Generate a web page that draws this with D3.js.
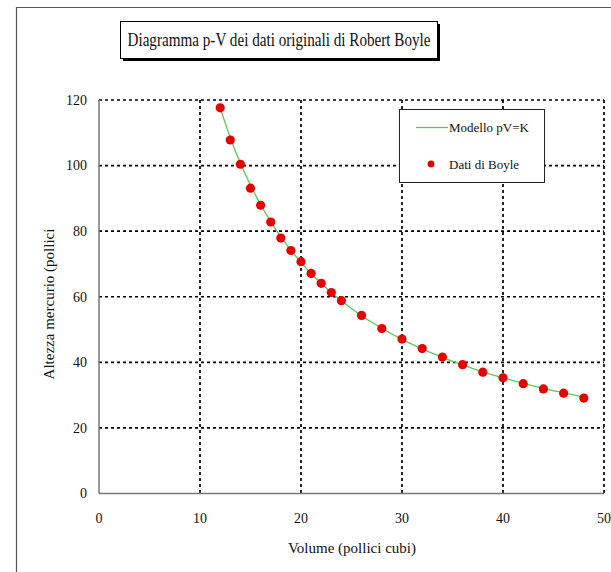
<!DOCTYPE html>
<html>
<head>
<meta charset="utf-8">
<script src="https://cdn.jsdelivr.net/npm/d3@7"></script>
<style>
	body{margin:0;background:#fff;}
	svg text{font-family:'Liberation Serif','DejaVu Serif',serif;fill:#111;}
</style>
</head>
<body>
<svg class="chart" width="611" height="572"></svg>
<script>
// Boyle's original data (volume in cubic inches, mercury height in inches)
var volumes = [48,46,44,42,40,38,36,34,32,30,28,26,24,23,22,21,20,19,18,17,16,15,14,13,12];
var heights = [29.1,30.6,31.9,33.5,35.3,37.0,39.3,41.6,44.2,47.1,50.3,54.3,58.8,61.3,64.1,67.1,70.7,74.1,77.9,82.8,87.9,93.1,100.4,107.8,117.6];
var modelHeights = [29.4,30.7,32.0,33.6,35.3,37.1,39.2,41.5,44.1,47.0,50.4,54.2,58.8,61.3,64.1,67.1,70.5,74.2,78.3,82.9,88.1,94.0,100.7,108.5,117.5];
var xTicks = [0,10,20,30,40,50];
var yTicks = [0,20,40,60,80,100,120];

var serif = "'Liberation Serif','DejaVu Serif',serif";
var margin = {top:100, right:8, bottom:79, left:99};
var width = 604 - margin.left,
	height = 493.5 - margin.top;

var svg = d3.select('.chart');

// outer frame
svg.append('path')
	.attr('d','M16.5,600 L16.5,7.5 L620,7.5')
	.attr('fill','none')
	.attr('stroke','#555')
	.attr('stroke-width',1.2);

// title box with shadow
svg.append('rect').attr('x',123).attr('y',24).attr('width',317).attr('height',37).attr('fill','#000');
svg.append('rect').attr('x',120.5).attr('y',21.5).attr('width',317).attr('height',37)
	.attr('fill','#fff').attr('stroke','#000').attr('stroke-width',1);
svg.append('text').attr('x',279).attr('y',46).attr('text-anchor','middle')
	.attr('font-family',serif).style('font-size','18px')
	.attr('textLength',303).attr('lengthAdjust','spacingAndGlyphs')
	.text('Diagramma p-V dei dati originali di Robert Boyle');

var x = d3.scaleLinear().domain([0,50]).range([0,width]);
var y = d3.scaleLinear().domain([0,120]).range([height,0]);

var chart = svg.append('g').attr('transform','translate(' + margin.left + ',' + margin.top + ')');

// dotted grid
chart.append('g').selectAll('line').data(xTicks.slice(1))
	.enter().append('line')
	.attr('x1',function(d){ return x(d)}).attr('x2',function(d){ return x(d)})
	.attr('y1',0).attr('y2',height)
	.attr('stroke','#000').attr('stroke-width',1.7).attr('stroke-dasharray','3,3');
chart.append('g').selectAll('line').data(yTicks.slice(1))
	.enter().append('line')
	.attr('y1',function(d){ return y(d)}).attr('y2',function(d){ return y(d)})
	.attr('x1',0).attr('x2',width)
	.attr('stroke','#000').attr('stroke-width',1.7).attr('stroke-dasharray','3,3');

// solid axes (left, bottom)
chart.append('line').attr('x1',0).attr('x2',0).attr('y1',0).attr('y2',height)
	.attr('stroke','#777').attr('stroke-width',1.5);
chart.append('line').attr('x1',0).attr('x2',width).attr('y1',height).attr('y2',height)
	.attr('stroke','#777').attr('stroke-width',1.5);

// tick labels
chart.append('g').selectAll('text').data(yTicks)
	.enter().append('text')
	.attr('x',-12).attr('y',function(d){ return y(d)}).attr('dy','0.35em')
	.attr('text-anchor','end').attr('font-family',serif).style('font-size','14px')
	.text(function(d){ return d});
chart.append('g').selectAll('text').data(xTicks)
	.enter().append('text')
	.attr('x',function(d){ return x(d)}).attr('y',height + 25).attr('dy','0.35em')
	.attr('text-anchor','middle').attr('font-family',serif).style('font-size','14px')
	.text(function(d){ return d});

// axis titles
svg.append('text').attr('x',352).attr('y',553).attr('text-anchor','middle')
	.attr('font-family',serif).style('font-size','15px').text('Volume (pollici cubi)');
svg.append('text').attr('transform','translate(54,304) rotate(-90)').attr('text-anchor','middle')
	.attr('font-family',serif).style('font-size','15px').text('Altezza mercurio (pollici');

// model line
var line = d3.line()
	.x(function(d,i){ return x(volumes[i])})
	.y(function(d){ return y(d)})
	.curve(d3.curveMonotoneX);
chart.append('path')
	.datum(modelHeights)
	.attr('fill','none')
	.attr('stroke','#5cc95c')
	.attr('stroke-width',1.3)
	.attr('d',line);

// data points
chart.append('g').selectAll('circle').data(heights)
	.enter().append('circle')
	.attr('cx',function(d,i){ return x(volumes[i])})
	.attr('cy',function(d){ return y(d)})
	.attr('r',4.6)
	.attr('fill','#e60000');

// legend
var legend = svg.append('g');
legend.append('rect').attr('x',399.5).attr('y',109.5).attr('width',145).attr('height',73)
	.attr('fill','#fff').attr('stroke','#222').attr('stroke-width',1);
legend.append('line').attr('x1',416).attr('x2',448).attr('y1',127.5).attr('y2',127.5)
	.attr('stroke','#5cc95c').attr('stroke-width',1.3);
legend.append('circle').attr('cx',431).attr('cy',164).attr('r',3.4).attr('fill','#e60000');
legend.append('text').attr('x',449).attr('y',127.5).attr('dy','0.35em')
	.attr('font-family',serif).style('font-size','13px').text('Modello pV=K');
legend.append('text').attr('x',449).attr('y',164).attr('dy','0.35em')
	.attr('font-family',serif).style('font-size','13px').text('Dati di Boyle');
</script>
</body>
</html>
